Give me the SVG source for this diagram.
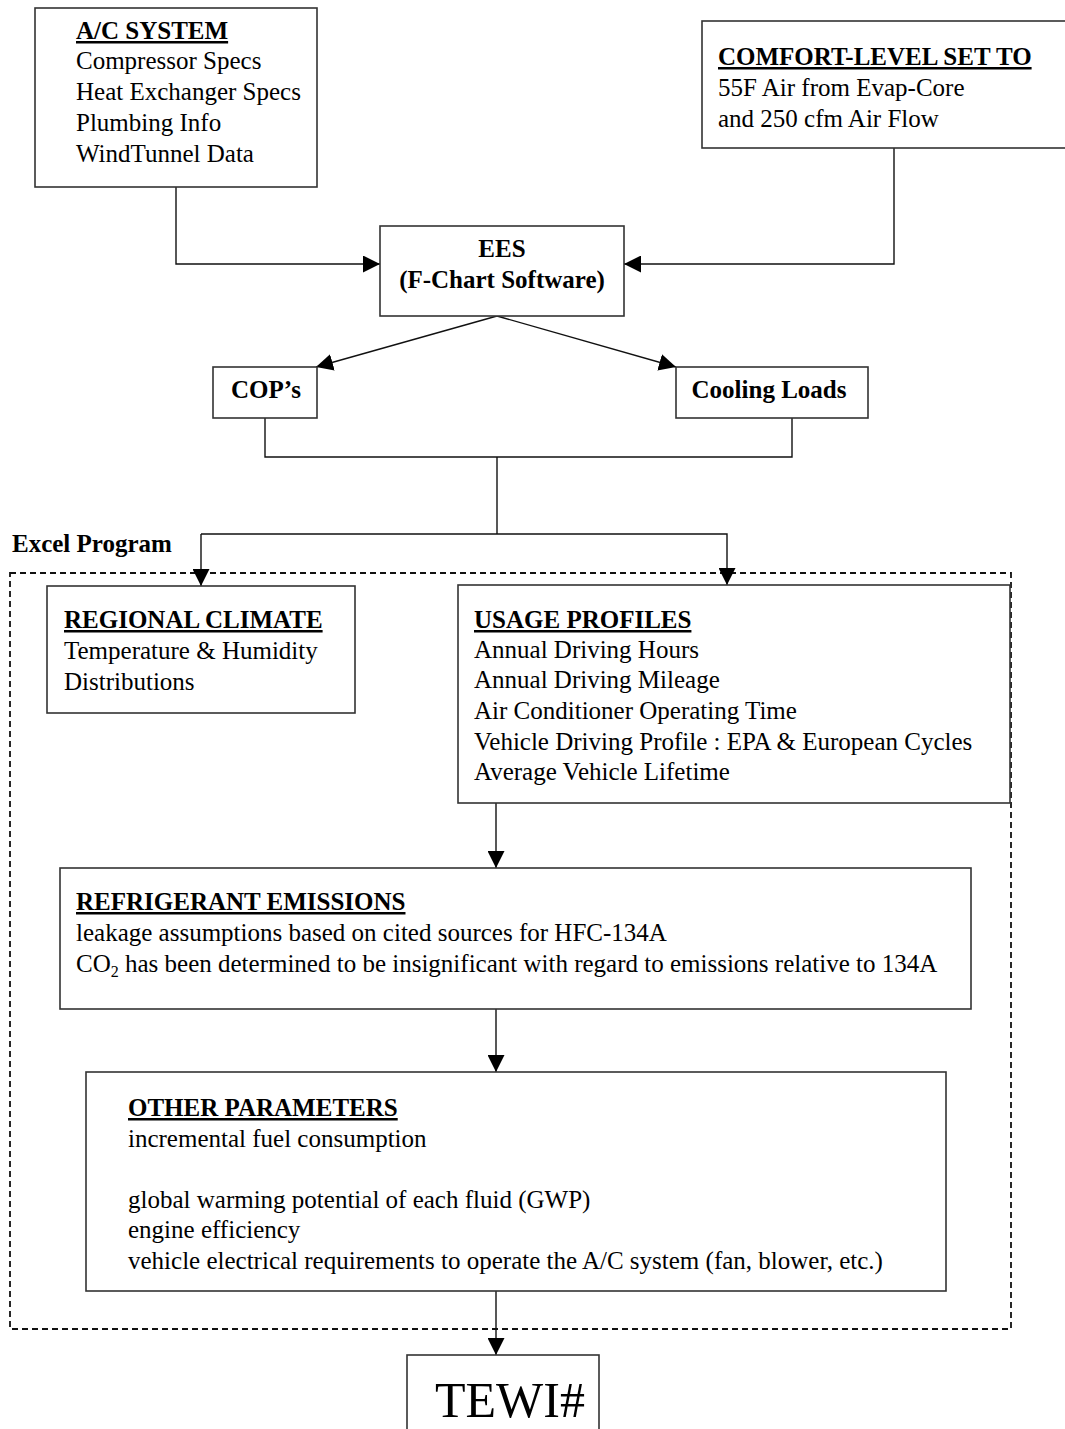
<svg xmlns="http://www.w3.org/2000/svg" width="1065" height="1429" viewBox="0 0 1065 1429">
<defs>
<marker id="arr" viewBox="0 0 16 16" refX="16" refY="8" markerWidth="17" markerHeight="17" markerUnits="userSpaceOnUse" orient="auto">
<path d="M0,0 L16,8 L0,16 Z" fill="#000"/>
</marker>
<style>
.box{fill:#fff;stroke:#333;stroke-width:1.6}
.t{font-family:"Liberation Serif","Times New Roman",serif;font-size:25px;fill:#000}
.b{font-weight:bold}
.u{text-decoration:underline}
.c{text-anchor:middle}
.ln{fill:none;stroke:#111;stroke-width:1.4}
.dash{fill:none;stroke:#111;stroke-width:1.8;stroke-dasharray:6 4}
</style>
</defs>
<rect width="1065" height="1429" fill="#fff"/>

<g id="excel-program">
<rect class="dash" x="10" y="573" width="1001" height="756"/>
<text class="t b" x="12" y="552">Excel Program</text>
</g>

<g id="connectors">
<polyline class="ln" points="176,187 176,264 380,264" marker-end="url(#arr)"/>
<polyline class="ln" points="894,148 894,264 624,264" marker-end="url(#arr)"/>
<line class="ln" x1="497" y1="316" x2="316" y2="367" marker-end="url(#arr)"/>
<line class="ln" x1="497" y1="316" x2="676" y2="367" marker-end="url(#arr)"/>
<polyline class="ln" points="265,418 265,457 792,457 792,418"/>
<line class="ln" x1="497" y1="457" x2="497" y2="534"/>
<polyline class="ln" points="201,534 727,534 727,585" marker-end="url(#arr)"/>
<line class="ln" x1="201" y1="534" x2="201" y2="586" marker-end="url(#arr)"/>
<line class="ln" x1="496" y1="803" x2="496" y2="868" marker-end="url(#arr)"/>
<line class="ln" x1="496" y1="1009" x2="496" y2="1072" marker-end="url(#arr)"/>
<line class="ln" x1="496" y1="1291" x2="496" y2="1355" marker-end="url(#arr)"/>
</g>

<g id="ac-system">
<rect class="box" x="35" y="8" width="282" height="179"/>
<text class="t b u" x="76" y="39">A/C SYSTEM</text>
<text class="t" x="76" y="69">Compressor Specs</text>
<text class="t" x="76" y="100">Heat Exchanger Specs</text>
<text class="t" x="76" y="131">Plumbing Info</text>
<text class="t" x="76" y="162">WindTunnel  Data</text>
</g>

<g id="comfort-level">
<rect class="box" x="702" y="21" width="400" height="127"/>
<text class="t b u" x="718" y="65">COMFORT-LEVEL SET TO</text>
<text class="t" x="718" y="96">55F Air from  Evap-Core</text>
<text class="t" x="718" y="127">and 250 cfm  Air Flow</text>
</g>

<g id="ees">
<rect class="box" x="380" y="226" width="244" height="90"/>
<text class="t b c" x="502" y="257">EES</text>
<text class="t b c" x="502" y="288">(F-Chart Software)</text>
</g>

<g id="cops">
<rect class="box" x="213" y="367" width="104" height="51"/>
<text class="t b c" x="266" y="398">COP’s</text>
</g>

<g id="cooling-loads">
<rect class="box" x="676" y="367" width="192" height="51"/>
<text class="t b c" x="769" y="398">Cooling Loads</text>
</g>

<g id="regional-climate">
<rect class="box" x="47" y="586" width="308" height="127"/>
<text class="t b u" x="64" y="628">REGIONAL CLIMATE</text>
<text class="t" x="64" y="659">Temperature &amp; Humidity</text>
<text class="t" x="64" y="690">Distributions</text>
</g>

<g id="usage-profiles">
<rect class="box" x="458" y="585" width="552" height="218"/>
<text class="t b u" x="474" y="628">USAGE PROFILES</text>
<text class="t" x="474" y="658">Annual Driving Hours</text>
<text class="t" x="474" y="688">Annual Driving Mileage</text>
<text class="t" x="474" y="719">Air Conditioner Operating Time</text>
<text class="t" x="474" y="750">Vehicle Driving Profile : EPA &amp; European Cycles</text>
<text class="t" x="474" y="780">Average Vehicle Lifetime</text>
</g>

<g id="refrigerant-emissions">
<rect class="box" x="60" y="868" width="911" height="141"/>
<text class="t b u" x="76" y="910">REFRIGERANT EMISSIONS</text>
<text class="t" x="76" y="941">leakage assumptions based on cited sources for HFC-134A</text>
<text class="t" x="76" y="972">CO<tspan font-size="16" dy="5">2</tspan><tspan dy="-5"> has been determined to be insignificant with regard to emissions relative to 134A</tspan></text>
</g>

<g id="other-parameters">
<rect class="box" x="86" y="1072" width="860" height="219"/>
<text class="t b u" x="128" y="1116">OTHER PARAMETERS</text>
<text class="t" x="128" y="1147">incremental fuel consumption</text>
<text class="t" x="128" y="1208">global warming potential of each fluid (GWP)</text>
<text class="t" x="128" y="1238">engine efficiency</text>
<text class="t" x="128" y="1269">vehicle electrical requirements to operate the A/C system (fan, blower, etc.)</text>
</g>

<g id="tewi">
<rect class="box" x="407" y="1355" width="192" height="100"/>
<text class="t" x="435" y="1417" style="font-size:50px">TEWI#</text>
</g>
</svg>
